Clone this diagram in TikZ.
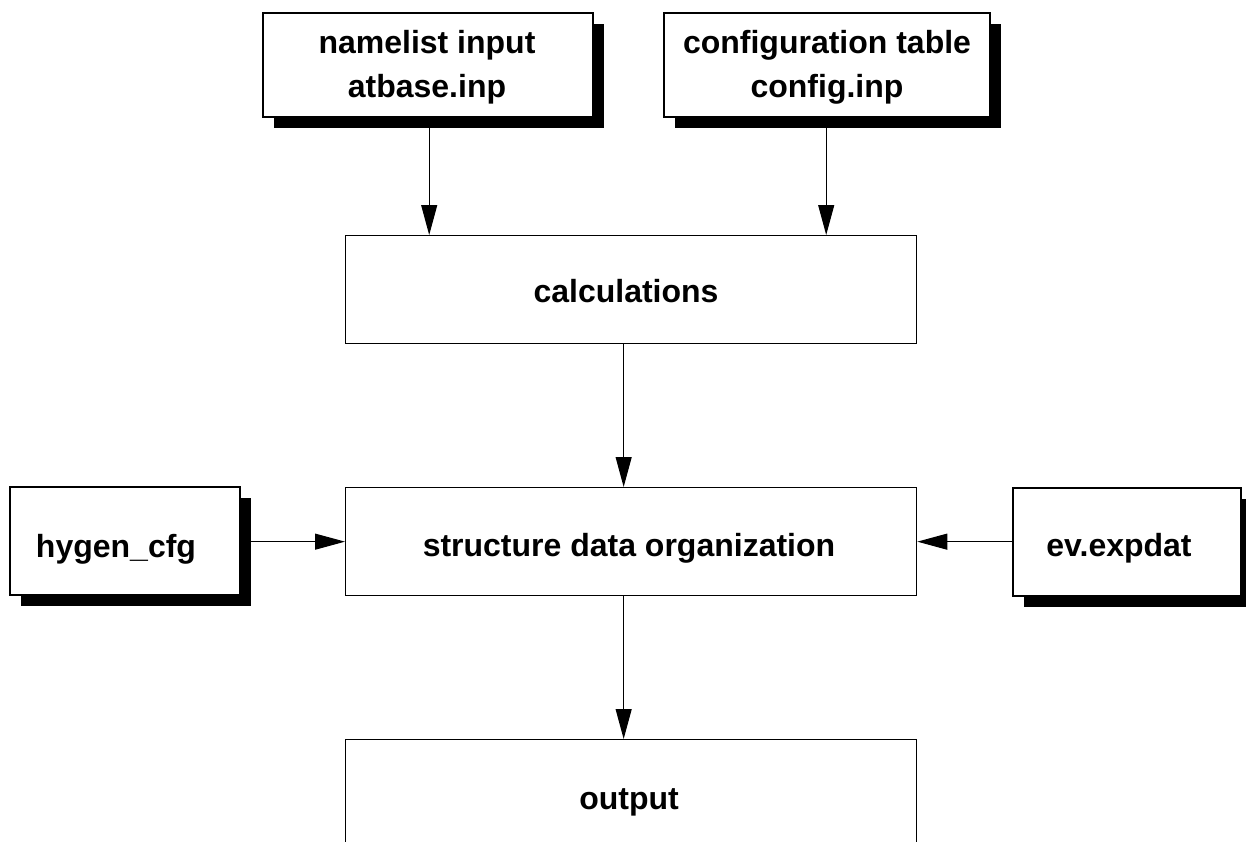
\documentclass[tikz,border=0pt]{standalone}
\usepackage{fontspec}
\setmainfont{Liberation Sans}
\usetikzlibrary{arrows.meta}
\tikzset{
  plainbox/.style={draw=black, line width=1.3pt, fill=white, inner sep=0pt, anchor=north west},
  inbox/.style={draw=black, line width=2pt, fill=white, inner sep=0pt, anchor=north west},
  shadowbox/.style={fill=black, draw=none, inner sep=0pt, anchor=north west},
  txt/.style={font=\fontsize{32}{38}\selectfont\bfseries, inner sep=0pt, anchor=base},
  arr/.style={line width=1.1pt, -{Triangle[length=30pt,width=16pt]}},
}
\begin{document}
\begin{tikzpicture}[x=1pt,y=-1pt]
\useasboundingbox (0,0) rectangle (1246,841);
\fill[white] (0,0) rectangle (1246,841);
\clip (0,0) rectangle (1246,841);

% input boxes with shadows
\node[shadowbox, minimum width=330pt, minimum height=104pt] (nls) at (274,24) {};
\node[inbox, minimum width=330pt, minimum height=104pt] (nl) at (262,12) {};
\node[txt] (nlt1) at (427,53) {namelist input};
\node[txt] (nlt2) at (427,97) {atbase.inp};

\node[shadowbox, minimum width=326pt, minimum height=104pt] (cfs) at (675,24) {};
\node[inbox, minimum width=326pt, minimum height=104pt] (cf) at (663,12) {};
\node[txt] (cft1) at (827,53) {configuration table};
\node[txt] (cft2) at (827,97) {config.inp};

\node[shadowbox, minimum width=230pt, minimum height=108pt] (hgs) at (21,498) {};
\node[inbox, minimum width=230pt, minimum height=108pt] (hg) at (9,486) {};
\node[txt] (hgt) at (116,557) {hygen\_cfg};

\node[shadowbox, minimum width=228pt, minimum height=108pt] (evs) at (1024,499) {};
\node[inbox, minimum width=228pt, minimum height=108pt] (ev) at (1012,487) {};
\node[txt] (evt) at (1119,556) {ev.expdat};

% process boxes
\node[plainbox, minimum width=571pt, minimum height=108pt] (calc) at (345,235) {};
\node[txt] (calct) at (626,302) {calculations};

\node[plainbox, minimum width=571pt, minimum height=108pt] (sdo) at (345,487) {};
\node[txt] (sdot) at (629,556) {structure data organization};

\node[plainbox, minimum width=571pt, minimum height=160pt] (out) at (345,739) {};
\node[txt] (outt) at (629,809) {output};

% connectors
\draw[arr] ([xshift=-10pt]nls.south) -- ([xshift=-10pt]nls.south |- calc.north);
\draw[arr] ([xshift=-12pt]cfs.south) -- ([xshift=-12pt]cfs.south |- calc.north);
\draw[arr] ([xshift=-7.5pt]calc.south) -- ([xshift=-7.5pt]sdo.north);
\draw[arr] ([xshift=-7.5pt]sdo.south) -- ([xshift=-7.5pt]out.north);
\draw[arr] (hgs.east |- sdo.west) -- (sdo.west);
\draw[arr] (ev.west |- sdo.east) -- (sdo.east);
\end{tikzpicture}
\end{document}
